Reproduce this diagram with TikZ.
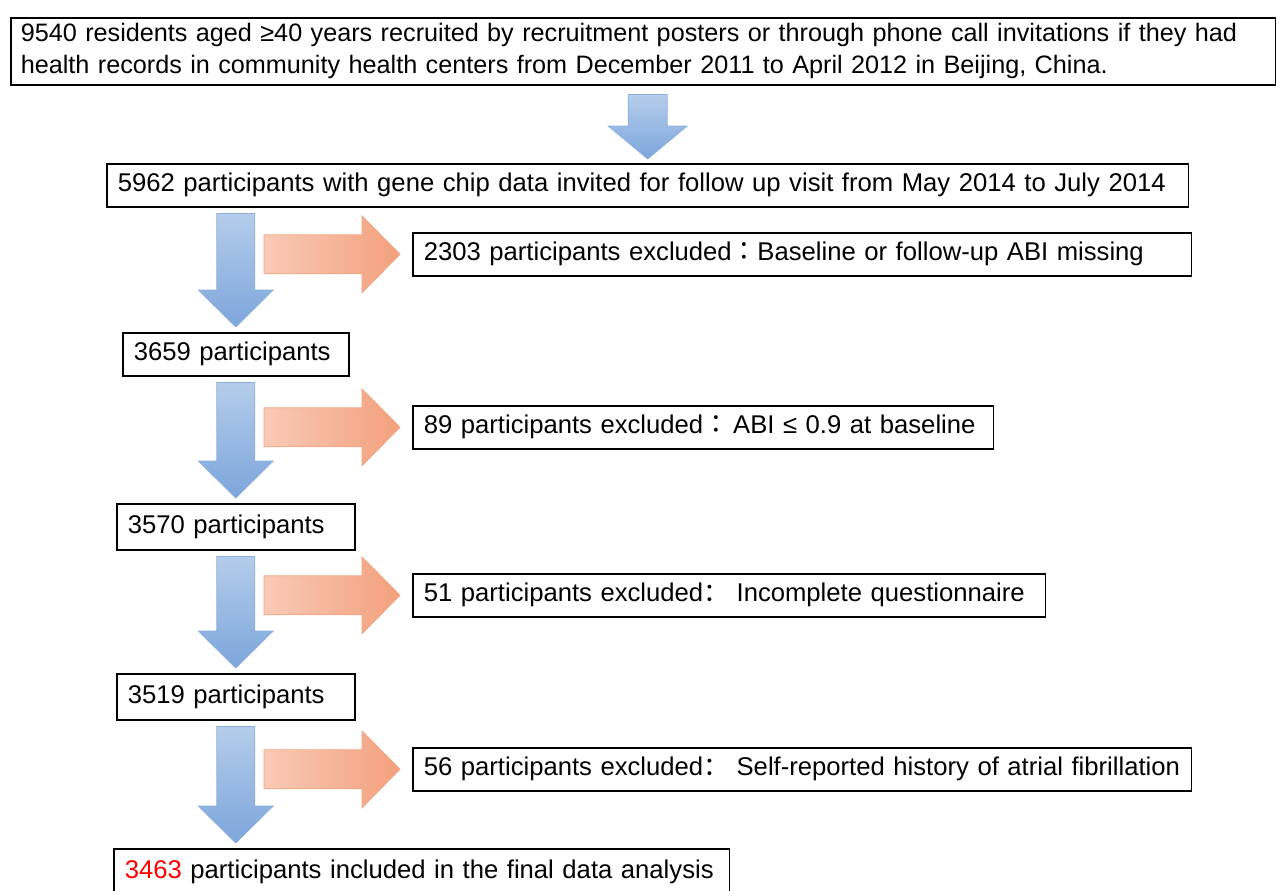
\documentclass[tikz,border=0pt]{standalone}
\usepackage{fontspec}
\setmainfont{Liberation Sans}
\newfontfamily\cjksc{Noto Sans CJK SC}
\newfontfamily\cjktc{Noto Sans CJK TC}
\usetikzlibrary{calc}
\definecolor{bluetop}{RGB}{181,205,235}
\definecolor{bluebot}{RGB}{124,166,219}
\definecolor{blueline}{RGB}{140,175,222}
\definecolor{orangeleft}{RGB}{248,202,182}
\definecolor{orangeright}{RGB}{243,160,124}
\definecolor{orangeline}{RGB}{240,165,130}
\tikzset{
  box/.style={draw, line width=0.9pt, anchor=north west, align=left,
    inner xsep=0.22cm, inner ysep=0pt, minimum height=0.86cm},
  bluearrow/.style={top color=bluetop, bottom color=bluebot, draw=blueline, line width=0.4pt},
  orangearrow/.style={left color=orangeleft, right color=orangeright, draw=orangeline, line width=0.4pt}
}
\begin{document}
\begin{tikzpicture}[x=0.02cm, y=-0.02cm, font=\fontsize{14.6}{18.2}\selectfont, line join=miter]
\useasboundingbox (0,0) rectangle (1280,891);
% boxes
\node[box, text width=24.9cm, minimum height=1.34cm, inner xsep=0.2cm,
  font=\fontsize{14.35}{18.2}\selectfont] (top) at (10,17)
  {9540 residents aged ≥40 years recruited by recruitment posters or through phone call invitations if they had\\
   health records in community health centers from December 2011 to April 2012 in Beijing, China.};
\node[box, text width=21.2cm] (b2) at (106,163)
  {5962 participants with gene chip data invited for follow up visit from May 2014 to July 2014};
\node[box, text width=15.14cm] (ex1) at (412,232)
  {2303 participants excluded{\cjktc：}Baseline or follow-up ABI missing};
\node[box, text width=4.08cm] (b3) at (122,332) {3659 participants};
\node[box, text width=11.18cm] (ex2) at (412,405)
  {89 participants excluded{\cjktc：}\,ABI ≤ 0.9 at baseline};
\node[box, text width=4.32cm, minimum height=0.92cm] (b4) at (116,503) {3570 participants};
\node[box, text width=12.22cm] (ex3) at (412,573)
  {\mbox{51 participants excluded{\cjksc：}\hspace{0.3em}Incomplete questionnaire}};
\node[box, text width=4.32cm, minimum height=0.92cm] (b5) at (116,673) {3519 participants};
\node[box, text width=15.14cm] (ex4) at (412,747)
  {\mbox{56 participants excluded{\cjksc：}\hspace{0.3em}Self-reported history of atrial fibrillation}};
\node[box, text width=11.88cm, minimum height=0.92cm] (fin) at (113,848)
  {\textcolor{red}{3463} participants included in the final data analysis};
% first arrow
\path[bluearrow] let \p1=(top.south -| b2.north), \p2=(b2.north) in
  (\x1-0.39cm,\y1-0.18cm) -- (\x1+0.39cm,\y1-0.18cm) -- (\x1+0.39cm,\y2+0.74cm)
  -- (\x1+0.79cm,\y2+0.74cm) -- (\x1,\y2+0.08cm) -- (\x1-0.79cm,\y2+0.74cm)
  -- (\x1-0.39cm,\y2+0.74cm) -- cycle;
% down arrows
\foreach \a/\b in {b2/b3, b3/b4, b4/b5, b5/fin}
  \path[bluearrow] let \p1=(\a.south -| b3.north), \p2=(\b.north -| b3.north) in
    (\x1-0.38cm,\y1-0.12cm) -- (\x1+0.38cm,\y1-0.12cm) -- (\x1+0.38cm,\y2+0.84cm)
    -- (\x1+0.75cm,\y2+0.84cm) -- (\x1,\y2+0.1cm) -- (\x1-0.75cm,\y2+0.84cm)
    -- (\x1-0.38cm,\y2+0.84cm) -- cycle;
% side arrows
\foreach \e in {ex1, ex2, ex3, ex4}
  \path[orangearrow] let \p1=(\e.west) in
    (\x1-2.96cm,\y1+0.39cm) -- (\x1-1.0cm,\y1+0.39cm) -- (\x1-1.0cm,\y1+0.77cm)
    -- (\x1-0.24cm,\y1) -- (\x1-1.0cm,\y1-0.77cm) -- (\x1-1.0cm,\y1-0.39cm)
    -- (\x1-2.96cm,\y1-0.39cm) -- cycle;
\end{tikzpicture}
\end{document}
